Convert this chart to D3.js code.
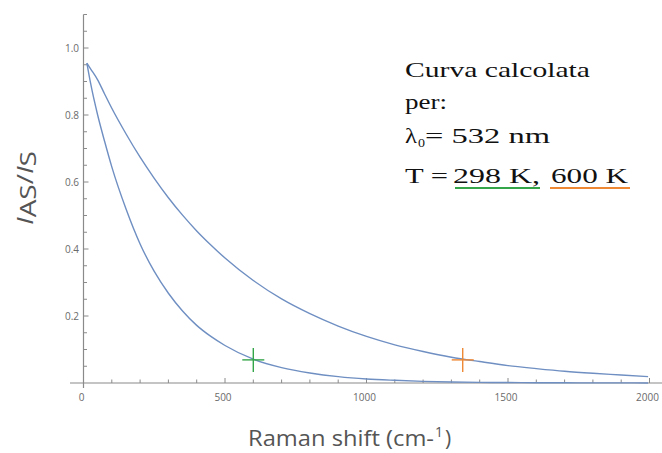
<!DOCTYPE html>
<html lang="en">
<head>
  <meta charset="UTF-8">
  <title>anti-Stokes / Stokes</title>
  <script src="https://cdn.jsdelivr.net/npm/d3@7"></script>
  <style>
    body { margin: 0; background: #fff; }
  </style>
</head>
<body>
  <svg width="662" height="453" id="mainsvg"></svg>
  <script>
    // values
    const shift = [12, 25, 50, 75, 100, 150, 200, 250, 300, 350, 400, 450, 500, 600, 700, 800,
                   900, 1000, 1100, 1200, 1300, 1400, 1500, 1600, 1700, 1800, 1900, 1995];
    const ratio298 = [0.955, 0.895, 0.80, 0.72, 0.645, 0.52, 0.415, 0.333, 0.268, 0.215, 0.172, 0.139, 0.112, 0.071,
                      0.046, 0.030, 0.019, 0.012, 0.008, 0.005, 0.003, 0.002, 0.0014, 0.0009, 0.0006, 0.0004, 0.0003, 0.0002];
    const ratio600 = [0.955, 0.938, 0.905, 0.862, 0.82, 0.744, 0.674, 0.611, 0.553, 0.501, 0.454, 0.412, 0.373, 0.306,
                      0.251, 0.207, 0.170, 0.139, 0.114, 0.094, 0.077, 0.064, 0.052, 0.043, 0.035, 0.029, 0.024, 0.019];
    const markers = [{x: 600, y: 0.069, color: '#35a54a'}, {x: 1340, y: 0.069, color: '#ee8833'}];
    const xTicks = [0, 500, 1000, 1500, 2000];
    const yTicks = [0.2, 0.4, 0.6, 0.8, 1.0];

    const svg = d3.select('#mainsvg');
    const x = d3.scaleLinear().domain([0, 2000]).range([83.5, 649.5]);
    const y = d3.scaleLinear().domain([0, 1]).range([383, 48]);

    const axisColor = '#8a8a8a';
    const labelColor = '#6a6a6a';

    // x axis
    const xAxis = svg.append('g');
    xAxis.append('line')
      .attr('x1', 70).attr('x2', 662).attr('y1', y(0)).attr('y2', y(0))
      .attr('stroke', axisColor).attr('stroke-width', 1.2);
    xAxis.selectAll('.minor').data(d3.range(100, 2001, 100))
      .join('line')
      .attr('x1', d => x(d)).attr('x2', d => x(d))
      .attr('y1', y(0)).attr('y2', d => y(0) - (d % 500 === 0 ? 5 : 3.5))
      .attr('stroke', axisColor).attr('stroke-width', 1);
    xAxis.selectAll('text').data(xTicks)
      .join('text')
      .attr('x', d => x(d) - 2).attr('y', 401)
      .attr('text-anchor', 'middle')
      .attr('font-family', 'Open Sans, sans-serif').attr('font-size', 10)
      .attr('fill', labelColor)
      .text(d => d);

    // y axis
    const yAxis = svg.append('g');
    yAxis.append('line')
      .attr('x1', x(0)).attr('x2', x(0)).attr('y1', y(1.1)).attr('y2', 388)
      .attr('stroke', axisColor).attr('stroke-width', 1.2);
    yAxis.selectAll('.minor').data(d3.range(1, 23).map(i => i * 0.05))
      .join('line')
      .attr('x1', x(0)).attr('x2', (d, i) => x(0) + ((i + 1) % 4 === 0 ? 5 : 3.5))
      .attr('y1', d => y(d)).attr('y2', d => y(d))
      .attr('stroke', axisColor).attr('stroke-width', 1);
    yAxis.selectAll('text').data(yTicks)
      .join('text')
      .attr('x', 79).attr('y', d => y(d) + 3.5)
      .attr('text-anchor', 'end')
      .attr('font-family', 'Open Sans, sans-serif').attr('font-size', 10)
      .attr('fill', labelColor)
      .text(d => d.toFixed(1));

    // curves
    const line = d3.line()
      .x(d => x(d[0])).y(d => y(d[1]))
      .curve(d3.curveMonotoneX);
    [ratio298, ratio600].forEach(vals => {
      svg.append('path')
        .datum(shift.map((s, i) => [s, vals[i]]))
        .attr('d', line)
        .attr('fill', 'none')
        .attr('stroke', '#6f8fc2')
        .attr('stroke-width', 1.4);
    });

    // crosses
    markers.forEach(m => {
      const cx = x(m.x), cy = y(m.y);
      svg.append('line').attr('x1', cx - 11).attr('x2', cx + 11).attr('y1', cy).attr('y2', cy)
        .attr('stroke', m.color).attr('stroke-width', 1.4);
      svg.append('line').attr('x1', cx).attr('x2', cx).attr('y1', cy - 12).attr('y2', cy + 12)
        .attr('stroke', m.color).attr('stroke-width', 1.4);
    });

    // axis titles
    const yt = svg.append('text')
      .attr('transform', 'translate(33,188) rotate(-90)')
      .attr('text-anchor', 'middle')
      .attr('font-family', 'Open Sans, sans-serif').attr('font-size', 21)
      .attr('fill', '#555')
      .attr('textLength', 74).attr('lengthAdjust', 'spacingAndGlyphs');
    yt.append('tspan').attr('font-style', 'italic').text('I');
    yt.append('tspan').attr('dy', 3).text('AS');
    yt.append('tspan').attr('dy', -3).text('/');
    yt.append('tspan').attr('font-style', 'italic').text('I');
    yt.append('tspan').attr('dy', 3).text('S');

    const xt = svg.append('g')
      .attr('font-family', 'Open Sans, sans-serif').attr('font-size', 21)
      .attr('fill', '#555');
    xt.append('text').attr('x', 248).attr('y', 446)
      .attr('textLength', 186).attr('lengthAdjust', 'spacingAndGlyphs')
      .text('Raman shift (cm-');
    xt.append('text').attr('x', 435).attr('y', 437).attr('font-size', 14).text('1');
    xt.append('text').attr('x', 445).attr('y', 446).text(')');

    // annotation
    const note = svg.append('g')
      .attr('font-family', 'Liberation Serif, Times New Roman, serif')
      .attr('font-size', 22).attr('fill', '#111');
    const put = (t, px, py, len, size) => note.append('text')
      .attr('x', px).attr('y', py)
      .attr('font-size', size || 22)
      .attr('textLength', len).attr('lengthAdjust', 'spacingAndGlyphs')
      .text(t);
    put('Curva calcolata', 405, 77, 185);
    put('per:', 405, 109, 42);
    put('\u03bb', 405, 143, 12);
    put('0', 418, 147, 7, 13);
    put('= 532 nm', 425, 143, 125);
    put('T =', 405, 183, 43);
    put('298 K,', 453, 183, 87);
    put('600 K', 551, 183, 77);
    note.append('line').attr('x1', 455).attr('x2', 540).attr('y1', 188).attr('y2', 188)
      .attr('stroke', '#35a54a').attr('stroke-width', 1.8);
    note.append('line').attr('x1', 550).attr('x2', 630).attr('y1', 188).attr('y2', 188)
      .attr('stroke', '#ee8833').attr('stroke-width', 1.8);
  </script>
</body>
</html>
